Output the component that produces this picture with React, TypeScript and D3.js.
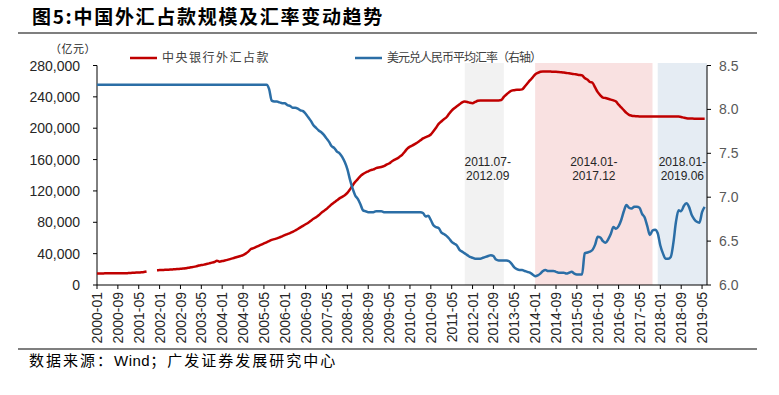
import React from 'react';
import * as d3 from 'd3';

// ---- categories (monthly, 2000-01 .. 2019-06) ----
const years = [2000, 2001, 2002, 2003, 2004, 2005, 2006, 2007, 2008, 2009, 2010, 2011, 2012, 2013, 2014, 2015, 2016, 2017, 2018, 2019];
const months: string[] = [];
years.forEach((y) => {
  const last = y === 2019 ? 6 : 12;
  for (let m = 1; m <= last; m++) months.push(`${y}-${String(m).padStart(2, '0')}`);
});

const tickLabels = [
  '2000-01', '2000-09', '2001-05', '2002-01', '2002-09', '2003-05', '2004-01', '2004-09', '2005-05', '2006-01',
  '2006-09', '2007-05', '2008-01', '2008-09', '2009-05', '2010-01', '2010-09', '2011-05', '2012-01', '2012-09',
  '2013-05', '2014-01', '2014-09', '2015-05', '2016-01', '2016-09', '2017-05', '2018-01', '2018-09', '2019-05',
];

// ---- 中央银行外汇占款 (亿元), left axis ----
const reserves: (number | null)[] = [
  14800, 14800, 14800, 14850, 14850, 14850, 14900, 14900, 14900, 14950, 14950, 15000,
  15200, 15400, 15600, 15800, 16000, 16300, 16700, 17300, null, null, null, 18900,
  19000, 19100, 19300, 19500, 19700, 19900, 20100, 20400, 20700, 21000, 21400, 22100,
  22600, 23100, 23800, 24800, 25400, 26000, 26800, 27600, 28500, 29300, 31000, 29800,
  30500, 31200, 32000, 33000, 34000, 35000, 36000, 37000, 38200, 40000, 42500, 45900,
  47000, 48500, 50000, 51500, 53000, 54500, 56000, 57500, 58500, 59500, 60800, 62100,
  63500, 65000, 66200, 67800, 69500, 71500, 73500, 75500, 77500, 79500, 82000, 84400,
  86500, 89000, 92000, 94500, 97000, 100000, 103000, 105500, 108000, 110500, 112500, 114500,
  117500, 122000, 127000, 131500, 135000, 139000, 141500, 143500, 145000, 146500, 147500, 149000,
  150000, 150500, 151500, 153500, 155000, 157500, 159500, 161200, 163500, 166000, 170000, 174000,
  176500, 178000, 180000, 182000, 184500, 187000, 188500, 190000, 192000, 196000, 200500, 205500,
  208500, 211500, 214000, 218500, 222500, 225500, 228000, 230500, 233000, 234000, 233500, 232500,
  232000, 233500, 235000, 235500, 235500, 235500, 235500, 235500, 235500, 235500, 235500, 236000,
  240000, 243000, 246000, 248000, 248500, 249000, 249000, 249500, 253000, 257000, 261000, 264500,
  268500, 270500, 272000, 272500, 272500, 272500, 272300, 272000, 272000, 271800, 271500, 271000,
  270500, 270000, 269500, 269000, 268500, 268000, 267300, 264000, 262000, 259000, 258000, 252000,
  246000, 242000, 239000, 238500, 237500, 236500, 235500, 234000, 230000, 226500, 223000, 219500,
  217000, 216000, 215500, 215300, 215000, 215000, 215000, 215000, 215000, 215000, 214900, 214800,
  214800, 214800, 214800, 214800, 214800, 214900, 215000, 214800, 214300, 213500, 212800, 212400,
  212300, 212200, 212200, 212100, 212100, 212100,
];

// ---- 美元兑人民币平均汇率, right axis ----
const usdcny: number[] = [
  8.28, 8.28, 8.28, 8.28, 8.28, 8.28, 8.28, 8.28, 8.28, 8.28, 8.28, 8.28,
  8.28, 8.28, 8.28, 8.28, 8.28, 8.28, 8.28, 8.28, 8.28, 8.28, 8.28, 8.28,
  8.28, 8.28, 8.28, 8.28, 8.28, 8.28, 8.28, 8.28, 8.28, 8.28, 8.28, 8.28,
  8.28, 8.28, 8.28, 8.28, 8.28, 8.28, 8.28, 8.28, 8.28, 8.28, 8.28, 8.28,
  8.28, 8.28, 8.28, 8.28, 8.28, 8.28, 8.28, 8.28, 8.28, 8.28, 8.28, 8.28,
  8.28, 8.28, 8.28, 8.28, 8.28, 8.28, 8.23, 8.10, 8.09, 8.09, 8.08, 8.07,
  8.07, 8.05, 8.04, 8.02, 8.02, 8.01, 7.99, 7.98, 7.95, 7.91, 7.87, 7.82,
  7.79, 7.76, 7.74, 7.71, 7.67, 7.63, 7.58, 7.56, 7.52, 7.50, 7.46, 7.40,
  7.32, 7.20, 7.10, 7.02, 6.98, 6.92, 6.85, 6.84, 6.83, 6.83, 6.83, 6.84,
  6.84, 6.84, 6.83, 6.83, 6.83, 6.83, 6.83, 6.83, 6.83, 6.83, 6.83, 6.83,
  6.83, 6.83, 6.83, 6.83, 6.83, 6.82, 6.78, 6.79, 6.74, 6.68, 6.66, 6.65,
  6.60, 6.58, 6.56, 6.53, 6.49, 6.47, 6.45, 6.40, 6.38, 6.36, 6.34, 6.32,
  6.31, 6.30, 6.30, 6.30, 6.31, 6.32, 6.33, 6.34, 6.33, 6.29, 6.28, 6.28,
  6.28, 6.28, 6.27, 6.24, 6.20, 6.18, 6.17, 6.17, 6.16, 6.15, 6.14, 6.12,
  6.10, 6.11, 6.13, 6.16, 6.17, 6.16, 6.16, 6.16, 6.15, 6.14, 6.14, 6.14,
  6.13, 6.14, 6.15, 6.13, 6.12, 6.12, 6.12, 6.36, 6.37, 6.38, 6.40, 6.46,
  6.55, 6.54, 6.50, 6.48, 6.52, 6.58, 6.66, 6.64, 6.67, 6.74, 6.84, 6.91,
  6.88, 6.87, 6.89, 6.89, 6.88, 6.81, 6.77, 6.67, 6.57, 6.62, 6.63, 6.59,
  6.45, 6.36, 6.30, 6.30, 6.32, 6.48, 6.72, 6.85, 6.84, 6.90, 6.93, 6.89,
  6.80, 6.75, 6.72, 6.71, 6.83, 6.89,
];

const leftTicks = [0, 40000, 80000, 120000, 160000, 200000, 240000, 280000];
const rightTicks = [6.0, 6.5, 7.0, 7.5, 8.0, 8.5];

// shaded periods
const bandStarts = ['2011-10', '2014-01', '2017-12'];
const bandEnds = ['2013-01', '2017-10', '2019-06'];
const bandLabels1 = ['2011.07-', '2014.01-', '2018.01-'];
const bandLabels2 = ['2012.09', '2017.12', '2019.06'];
const bandColors = ['#f2f2f2', '#f9e1e1', '#e5ecf3'];

const seriesNames = ['中央银行外汇占款', '美元兑人民币平均汇率（右轴）'];

const W = 779;
const H = 395;
const plotLeft = 97;
const plotRight = 707;
const plotTop = 65.5;
const plotBottom = 285;

const CJK = '"Noto Sans CJK SC", "Noto Sans", sans-serif';
const LAT = '"Liberation Sans", Arial, sans-serif';

export default function App() {
  const x = d3.scalePoint<string>().domain(months).range([plotLeft, plotLeft + 2.608 * (months.length - 1)]);
  const yL = d3.scaleLinear().domain([0, 280000]).range([plotBottom, plotTop]);
  const yR = d3.scaleLinear().domain([6, 8.5]).range([plotBottom, plotTop]);

  const redLine = d3
    .line<number | null>()
    .defined((d) => d !== null)
    .x((_, i) => x(months[i]) as number)
    .y((d) => yL(d as number))
    .curve(d3.curveMonotoneX);

  const blueLine = d3
    .line<number>()
    .x((_, i) => x(months[i]) as number)
    .y((d) => yR(d))
    .curve(d3.curveMonotoneX);

  const red = '#c00000';
  const blue = '#2b6ea6';

  return (
    <svg width={W} height={H} style={{ position: 'absolute', left: 0, top: 0, background: '#fff' }}>
      <rect x={0} y={0} width={W} height={H} fill="#fff" />
      {/* title */}
      <text x={32} y={24} fontFamily={CJK} fontWeight={700} fontSize={19} letterSpacing={1.7} fill="#000">
        图5:中国外汇占款规模及汇率变动趋势
      </text>
      <line x1={18} x2={757} y1={33} y2={33} stroke="#000" strokeWidth={1.2} />

      {/* bands */}
      {bandStarts.map((s, i) => {
        const x0 = x(s) as number;
        const x1 = bandEnds[i] === months[months.length - 1] ? plotRight : (x(bandEnds[i]) as number);
        return <rect key={s} x={x0} y={63} width={x1 - x0} height={plotBottom - 63} fill={bandColors[i]} />;
      })}
      {bandStarts.map((s, i) => {
        const x0 = x(s) as number;
        const x1 = bandEnds[i] === months[months.length - 1] ? plotRight : (x(bandEnds[i]) as number);
        const cx = i === 0 ? x0 + 23 : (x0 + x1) / 2;
        return (
          <g key={'l' + s} fontFamily={LAT} fontSize={12} fill="#262626" textAnchor="middle">
            <text x={cx} y={166}>{bandLabels1[i]}</text>
            <text x={cx} y={180}>{bandLabels2[i]}</text>
          </g>
        );
      })}

      {/* axes */}
      <line x1={plotLeft} x2={plotLeft} y1={plotTop} y2={plotBottom} stroke="#000" strokeWidth={1} />
      <line x1={plotRight} x2={plotRight} y1={plotTop} y2={plotBottom} stroke="#000" strokeWidth={1} />
      <line x1={plotLeft} x2={plotRight} y1={plotBottom} y2={plotBottom} stroke="#000" strokeWidth={1} />

      {leftTicks.map((t) => (
        <g key={'lt' + t}>
          <line x1={plotLeft - 4} x2={plotLeft} y1={yL(t)} y2={yL(t)} stroke="#000" />
          <text x={80} y={yL(t)} dy="0.36em" textAnchor="end" fontFamily={LAT} fontSize={14} fill="#262626">
            {d3.format(',')(t)}
          </text>
        </g>
      ))}
      {rightTicks.map((t) => (
        <g key={'rt' + t}>
          <line x1={plotRight} x2={plotRight + 4} y1={yR(t)} y2={yR(t)} stroke="#000" />
          <text x={719} y={yR(t)} dy="0.36em" textAnchor="start" fontFamily={LAT} fontSize={14} fill="#595959">
            {t.toFixed(1)}
          </text>
        </g>
      ))}
      {tickLabels.map((t) => {
        const px = x(t) as number;
        return (
          <g key={'xt' + t}>
            <line x1={px} x2={px} y1={plotBottom} y2={plotBottom + 4} stroke="#000" />
            <text
              transform={`translate(${px},${plotBottom + 7}) rotate(-90)`}
              textAnchor="end"
              dy="0.36em"
              fontFamily={LAT}
              fontSize={14}
              fill="#262626"
            >
              {t}
            </text>
          </g>
        );
      })}

      <text x={50} y={49.5} dy="0.36em" fontFamily={CJK} fontSize={11} letterSpacing={0.5} fill="#262626">（亿元）</text>

      {/* lines */}
      <path d={redLine(reserves) || ''} fill="none" stroke={red} strokeWidth={2.5} strokeLinejoin="round" />
      <path d={blueLine(usdcny) || ''} fill="none" stroke={blue} strokeWidth={2.5} strokeLinejoin="round" />

      {/* legend */}
      <line x1={130} x2={157} y1={58} y2={58} stroke={red} strokeWidth={2.5} />
      <text x={162} y={58} dy="0.36em" fontFamily={CJK} fontSize={12} letterSpacing={1.5} fill="#404040">
        {seriesNames[0]}
      </text>
      <line x1={355} x2={382} y1={58} y2={58} stroke={blue} strokeWidth={2.5} />
      <text x={387} y={58} dy="0.36em" fontFamily={CJK} fontSize={12} letterSpacing={-1} fill="#404040">
        {seriesNames[1]}
      </text>

      {/* footer */}
      <line x1={18} x2={757} y1={349} y2={349} stroke="#000" strokeWidth={1.2} />
      <text x={29} y={366} fontFamily={CJK} fontSize={15} letterSpacing={2} fill="#000">
        数据来源：<tspan fontFamily={LAT} letterSpacing={0.5}>Wind</tspan>；广发证券发展研究中心
      </text>
    </svg>
  );
}
